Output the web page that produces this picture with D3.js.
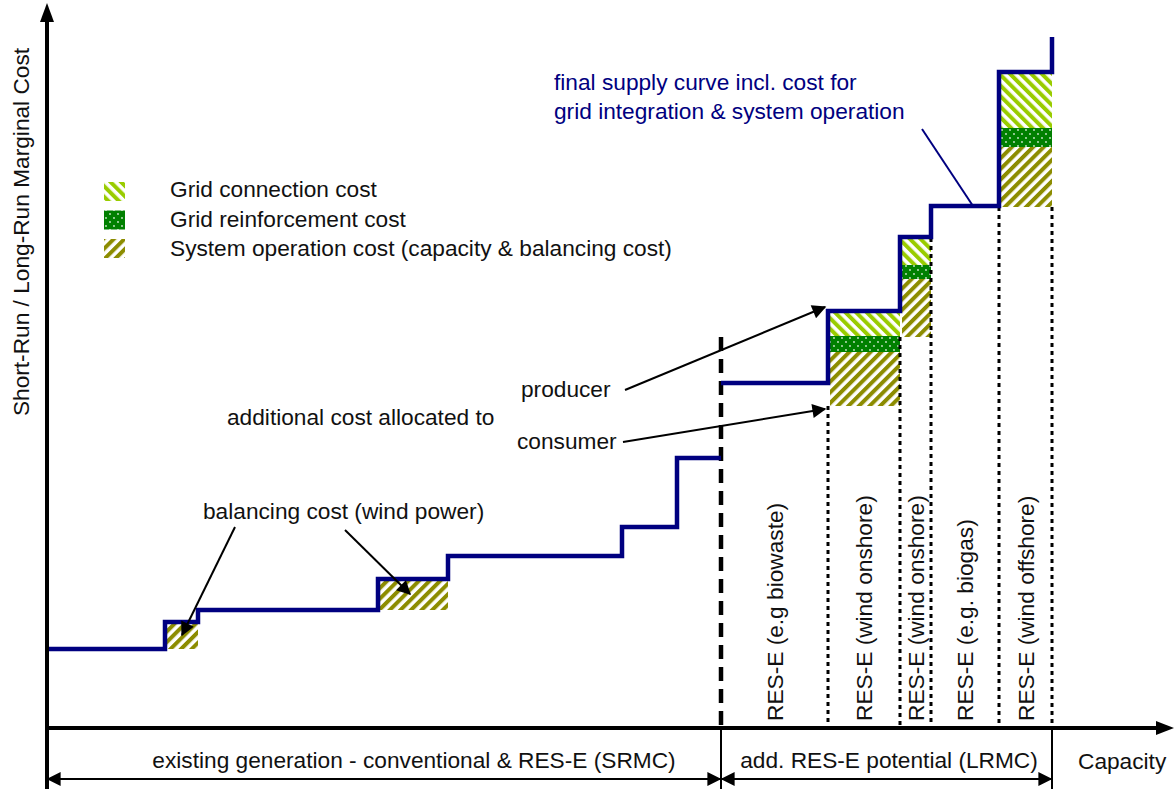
<!DOCTYPE html>
<html lang="en">
<head>
    <meta charset="UTF-8">
    <title>Supply curve with RES-E integration cost</title>
    <script src="https://d3js.org/d3.v7.min.js"></script>
    <style>
        body { margin: 0; background: #fff; }
        text { font-family: Arial, "Liberation Sans", sans-serif; font-size: 22.7px; fill: #111; }
        .curve { fill: none; stroke: #000080; stroke-width: 4.5px; }
        .axis { stroke: #000; stroke-width: 4px; }
        .arrow { stroke: #000; stroke-width: 2px; fill: none; }
    </style>
</head>
<body>
    <svg id="chartSvg" width="1174" height="789"></svg>

    <script>
        // capacity steps (x) and cost level of each step (y)
        const capBreaks = [0, 118, 151, 331, 401, 575, 630, 674, 781, 853, 884, 952, 1005];
        const costLevels = [79, 106, 118, 149, 172, 201, 270, 345, 417, 491, 522, 656];
        const curveTop = 691;
        const existingEnd = 674;   // end of existing generation

        // cost blocks: start / end capacity, base cost, and the three cost parts
        const boxStart = [118, 331, 781, 853, 952];
        const boxEnd = [151, 401, 853, 884, 1005];
        const boxBase = [79, 118, 322, 391, 521];
        const sysOpCost = [27, 31, 54, 58, 60];
        const reinforceCost = [0, 0, 16, 14, 19];
        const connectCost = [0, 0, 25, 28, 56];

        // RES-E columns
        const resLabels = ["RES-E (e.g biowaste)", "RES-E (wind onshore)", "RES-E (wind onshore)", "RES-E (e.g. biogas)", "RES-E (wind offshore)"];
        const resBounds = [674, 781, 853, 884, 952, 1005];
        const dottedFrom = [322, 391, 522, 521, 521];   // where the dotted separators start

        const legendLabels = ["Grid connection cost", "Grid reinforcement cost", "System operation cost (capacity & balancing cost)"];
        const legendFills = ["url(#connect)", "url(#reinforce)", "url(#sysop)"];

        const svg = d3.select("#chartSvg");
        const x = d3.scaleLinear().domain([0, 1113]).range([47, 1160]);
        const y = d3.scaleLinear().domain([0, 720]).range([728, 8]);

        // patterns
        const defs = svg.append("defs");
        function stripes(id, color, angle) {
            const p = defs.append("pattern").attr("id", id)
                .attr("patternUnits", "userSpaceOnUse")
                .attr("width", 7.5).attr("height", 7.5)
                .attr("patternTransform", `rotate(${angle})`);
            p.append("rect").attr("width", 7.5).attr("height", 7.5).attr("fill", "#fff");
            p.append("rect").attr("width", 4).attr("height", 7.5).attr("fill", color);
        }
        stripes("connect", "#99cc00", -45);
        stripes("sysop", "#8c8c00", 45);
        const rp = defs.append("pattern").attr("id", "reinforce")
            .attr("patternUnits", "userSpaceOnUse").attr("width", 8).attr("height", 8);
        rp.append("rect").attr("width", 8).attr("height", 8).attr("fill", "#008000");
        rp.append("circle").attr("cx", 2).attr("cy", 2).attr("r", 0.9).attr("fill", "#cfe8cf");
        rp.append("circle").attr("cx", 6).attr("cy", 6).attr("r", 0.9).attr("fill", "#cfe8cf");

        const marker = defs.append("marker").attr("id", "head")
            .attr("viewBox", "0 0 10 10").attr("refX", 9).attr("refY", 5)
            .attr("markerWidth", 9).attr("markerHeight", 7)
            .attr("markerUnits", "strokeWidth")
            .attr("orient", "auto-start-reverse");
        marker.append("path").attr("d", "M0,0 L10,5 L0,10 z").attr("fill", "#000");

        // stacked cost blocks
        boxStart.forEach((s, i) => {
            const parts = [[sysOpCost[i], "url(#sysop)"], [reinforceCost[i], "url(#reinforce)"], [connectCost[i], "url(#connect)"]];
            let c = boxBase[i];
            parts.forEach(([v, fill]) => {
                if (v <= 0) return;
                svg.append("rect")
                    .attr("x", x(s) + 2)
                    .attr("width", x(boxEnd[i]) - x(s) - 2)
                    .attr("y", y(c + v))
                    .attr("height", y(c) - y(c + v))
                    .attr("fill", fill);
                c += v;
            });
        });

        // dotted separators between RES-E columns
        svg.selectAll(".sep")
            .data(resBounds.slice(1))
            .enter()
            .append("line")
            .attr("x1", d => x(d)).attr("x2", d => x(d))
            .attr("y1", (d, i) => y(dottedFrom[i])).attr("y2", y(0))
            .attr("stroke", "#000").attr("stroke-width", 3)
            .attr("stroke-dasharray", "4,4");

        // dashed border of existing generation
        svg.append("line")
            .attr("x1", x(existingEnd)).attr("x2", x(existingEnd))
            .attr("y1", y(391)).attr("y2", y(0))
            .attr("stroke", "#000").attr("stroke-width", 4.5)
            .attr("stroke-dasharray", "14,8");

        // supply curve (two pieces)
        const line = d3.line().x(d => x(d[0])).y(d => y(d[1])).curve(d3.curveStepAfter);
        const existingPts = capBreaks.slice(0, 7).map((c, i) => [c, costLevels[i]]);
        existingPts.push([existingEnd, costLevels[6]]);
        const newPts = capBreaks.slice(7, 12).map((c, i) => [c, costLevels[i + 7]]);
        newPts.push([capBreaks[12], costLevels[11]], [capBreaks[12], curveTop]);
        svg.append("path").attr("class", "curve").attr("d", line(existingPts));
        svg.append("path").attr("class", "curve").attr("d", line(newPts));

        // axes
        svg.append("line").attr("class", "axis")
            .attr("x1", x(0)).attr("x2", x(0)).attr("y1", 789).attr("y2", 20);
        svg.append("path").attr("d", `M${x(0) - 7},22 L${x(0)},3 L${x(0) + 7},22 z`).attr("fill", "#000");
        svg.append("line").attr("class", "axis")
            .attr("x1", x(0)).attr("x2", 1158).attr("y1", y(0)).attr("y2", y(0));
        svg.append("path").attr("d", `M1156,${y(0) - 7} L1174,${y(0)} L1156,${y(0) + 7} z`).attr("fill", "#000");

        // y axis title
        svg.append("text")
            .attr("transform", "translate(29,232) rotate(-90)")
            .attr("text-anchor", "middle")
            .text("Short-Run /  Long-Run Marginal Cost");

        // RES-E column labels
        svg.selectAll(".reslabel")
            .data(resLabels)
            .enter()
            .append("text")
            .attr("transform", (d, i) => `translate(${(x(resBounds[i]) + x(resBounds[i + 1])) / 2},721) rotate(-90)`)
            .attr("dy", "0.36em")
            .text(d => d);

        // bottom dimension arrows
        const dimY = 779;
        [[0, existingEnd], [existingEnd, capBreaks[12]]].forEach(([a, b]) => {
            svg.append("line").attr("class", "arrow")
                .attr("x1", x(a) + 1).attr("x2", x(b) - 1).attr("y1", dimY).attr("y2", dimY)
                .attr("marker-start", "url(#head)").attr("marker-end", "url(#head)");
        });
        [existingEnd, capBreaks[12]].forEach(c => {
            svg.append("line").attr("x1", x(c)).attr("x2", x(c)).attr("y1", y(0)).attr("y2", 789)
                .attr("stroke", "#000").attr("stroke-width", 2);
        });
        svg.append("text").attr("x", 414).attr("y", 768).attr("text-anchor", "middle")
            .text("existing generation - conventional & RES-E (SRMC)");
        svg.append("text").attr("x", 889).attr("y", 768).attr("text-anchor", "middle")
            .text("add. RES-E potential (LRMC)");
        svg.append("text").attr("x", 1078).attr("y", 769).text("Capacity");

        // legend
        legendLabels.forEach((lab, i) => {
            svg.append("rect").attr("x", 104).attr("y", 182 + i * 28.5)
                .attr("width", 21).attr("height", 19).attr("fill", legendFills[i]);
            svg.append("text").attr("x", 170).attr("y", 197 + i * 29.5).text(lab);
        });

        // annotations
        svg.append("text").attr("x", 554).attr("y", 90).style("fill", "#000080")
            .text("final supply curve incl. cost for");
        svg.append("text").attr("x", 554).attr("y", 119).style("fill", "#000080")
            .text("grid integration & system operation");
        svg.append("line").attr("x1", 922).attr("y1", 129)
            .attr("x2", x(capBreaks[10]) + 42).attr("y2", y(costLevels[10]))
            .attr("stroke", "#000080").attr("stroke-width", 2);

        svg.append("text").attr("x", 521).attr("y", 397).text("producer");
        svg.append("text").attr("x", 227).attr("y", 425).text("additional cost allocated to");
        svg.append("text").attr("x", 517).attr("y", 449).text("consumer");
        svg.append("text").attr("x", 203).attr("y", 519).text("balancing cost (wind power)");

        const arrows = [
            [235, 527, x(boxStart[0]) + 17, y(boxBase[0]) - 14],
            [345, 530, x(boxStart[1]) + 32, y(boxBase[1]) - 16],
            [625, 390, x(boxStart[2]) - 3, y(costLevels[8]) - 4],
            [623, 442, x(boxStart[2]) - 3, y(boxBase[2]) + 3]
        ];
        svg.selectAll(".ann")
            .data(arrows)
            .enter()
            .append("line")
            .attr("class", "arrow")
            .attr("x1", d => d[0]).attr("y1", d => d[1])
            .attr("x2", d => d[2]).attr("y2", d => d[3])
            .attr("marker-end", "url(#head)");
    </script>
</body>
</html>
